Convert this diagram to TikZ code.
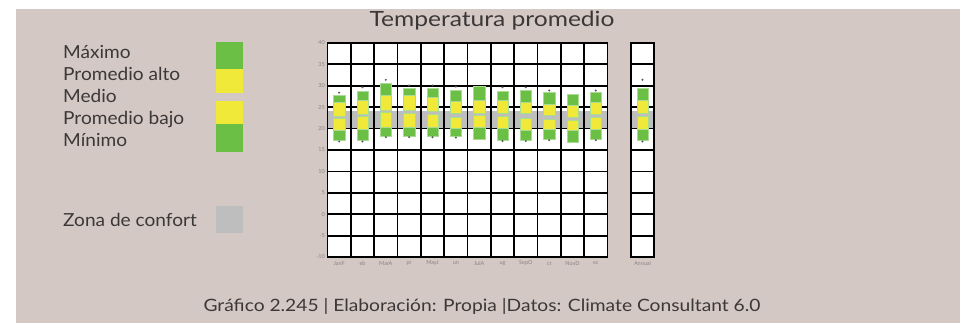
\documentclass[tikz,border=0pt]{standalone}
\usepackage{fontspec}
\setmainfont{Lato}
\newfontfamily\ttlfont{Lato}[FakeStretch=1.17]
\newfontfamily\lblfont{Lato}[FakeStretch=1.06]
\newfontfamily\capfont{Lato}[FakeStretch=1.13]
\definecolor{bg}{HTML}{D3C8C4}
\definecolor{grn}{HTML}{6BBF44}
\definecolor{yel}{HTML}{F1E93A}
\definecolor{cmf}{HTML}{BEBEBE}
\definecolor{edgec}{HTML}{A8DC92}
\definecolor{txt}{HTML}{3C3838}
\definecolor{tickc}{HTML}{8A8484}
\definecolor{dotc}{HTML}{555555}
\tikzset{
  lbl/.style={font=\lblfont\fontsize{18}{18}\selectfont, text=txt, inner sep=0pt, anchor=base west},
  ttl/.style={font=\ttlfont\fontsize{21}{21}\selectfont, text=txt, inner sep=0pt, anchor=base},
  captxt/.style={font=\capfont\fontsize{17}{17}\selectfont, text=txt, inner sep=0pt, anchor=base},
  ticklbl/.style={font=\fontsize{5.5}{5.5}\selectfont, text=tickc, inner sep=0pt},
  gridline/.style={line width=1.8pt, black, line cap=rect},
  seg/.style={draw=edgec, line width=0.6pt},
}
\begin{document}
\begin{tikzpicture}[x=1pt,y=-1pt]
\useasboundingbox (0,0) rectangle (965,323);
\fill[white] (0,0) rectangle (965,323);
\fill[bg] (16,9) rectangle (960,323);

% title and caption
\node[ttl] (title) at (492,27) {Temperatura promedio};
\node[captxt] (caption) at (482,311.5) {Gráfico 2.245 | Elaboración: Propia |Datos: Climate Consultant 6.0};

% legend
\node[lbl] (lmax) at (63,58.5) {Máximo};
\node[lbl] (lpa) at (63,80.5) {Promedio alto};
\node[lbl] (lmed) at (63,102.5) {Medio};
\node[lbl] (lpb) at (63,124.5) {Promedio bajo};
\node[lbl] (lmin) at (63,146.5) {Mínimo};
\node[lbl] (lcmf) at (63,226.5) {Zona de confort};
\fill[grn] (216,42.3) rectangle (243,69.3);
\fill[yel] (216,69.3) rectangle (243,93.3);
\fill[yel] (216,101) rectangle (243,124);
\fill[grn] (216,124) rectangle (243,151.7);
\fill[cmf] (216,206) rectangle (243,233.3);

% chart in temperature units
\begin{scope}[y=4.28pt, yshift=-214.2pt]
  \fill[white] (327.5,-10) rectangle (607.5,40);
  \fill[white] (631,-10) rectangle (654,40);
  \fill[cmf] (327.5,20.2) rectangle (607.5,24);
  \fill[cmf] (631,20.2) rectangle (654,24);
  \foreach \t in {-10,-5,...,40} {
    \draw[gridline] (327.5,\t) -- (607.5,\t);
    \draw[gridline] (631,\t) -- (654,\t);
  }
  \foreach \i in {0,...,12} {
    \draw[gridline] ({327.5+\i*23.333},-10) -- ({327.5+\i*23.333},40);
  }
  \draw[gridline] (631,-10) -- (631,40);
  \draw[gridline] (654,-10) -- (654,40);
  % tick labels
  \foreach \t [count=\k] in {40,35,...,-10} {
    \node[ticklbl, anchor=east] (tk\k) at (325,\t) {\t};
  }
  % bars: center / max / promedio alto / medio hi / medio lo / promedio bajo / min
  \foreach \cx/\mx/\pa/\mh/\ml/\pb/\mn in {
    339.17/27.8/26.05/22.9/22.4/19.7/17.3,
    362.5/28.7/26.7/23.4/22.8/19.9/17.3,
    385.83/30.6/27.8/24.3/23.7/20.2/18.2,
    409.17/29.5/27.8/24.2/23.6/20.2/18.2,
    432.5/29.3/27.3/24.1/23.4/20.3/18.2,
    455.83/29.0/26.3/23.5/22.7/20.0/18.1,
    479.17/29.8/26.5/23.6/23.0/20.2/17.5,
    502.5/28.6/26.5/23.6/22.95/20.0/17.3,
    525.83/29.0/26.1/23.6/22.4/19.6/17.3,
    549.17/28.4/25.75/23.0/22.2/19.8/17.5,
    572.5/28.0/25.35/22.6/21.9/19.6/16.9,
    595.83/28.4/26.05/23.3/22.55/19.9/17.5,
    642.5/29.4/26.5/23.6/22.8/19.9/17.2} {
    \filldraw[seg, fill=grn] ({\cx-5.7},\mx) rectangle ({\cx+5.7},\pa);
    \filldraw[seg, fill=yel] ({\cx-5.7},\pa) rectangle ({\cx+5.7},\mh);
    \filldraw[seg, fill=yel] ({\cx-5.7},\ml) rectangle ({\cx+5.7},\pb);
    \filldraw[seg, fill=grn] ({\cx-5.7},\pb) rectangle ({\cx+5.7},\mn);
  }
  % record dots
  \foreach \cx/\dt/\db in {
    339.17/28.4/17.0, 362.5/29.65/17.0, 385.83/31.4/18.0, 409.17/30.1/18.0,
    432.5/30.1/18.0, 455.83/29.8/17.9, 502.5/29.65/17.1, 525.83/29.65/17.1,
    549.17/28.9/17.3, 595.83/28.9/17.3, 642.5/31.4/17.0} {
    \fill[dotc] (\cx,\dt) circle (1.1pt);
    \fill[dotc] (\cx,\db) circle (1.1pt);
  }
  % month labels
  \foreach \cx/\m [count=\k] in {339.17/JanF, 362.5/eb, 385.83/MarA, 409.17/pr,
    432.5/MayJ, 455.83/un, 479.17/JulA, 502.5/ug, 525.83/SepO, 549.17/ct,
    572.5/NovD, 595.83/ec, 642.5/Annual} {
    \node[ticklbl] (mo\k) at (\cx,-11.5) {\m};
  }
\end{scope}
\end{tikzpicture}
\end{document}
